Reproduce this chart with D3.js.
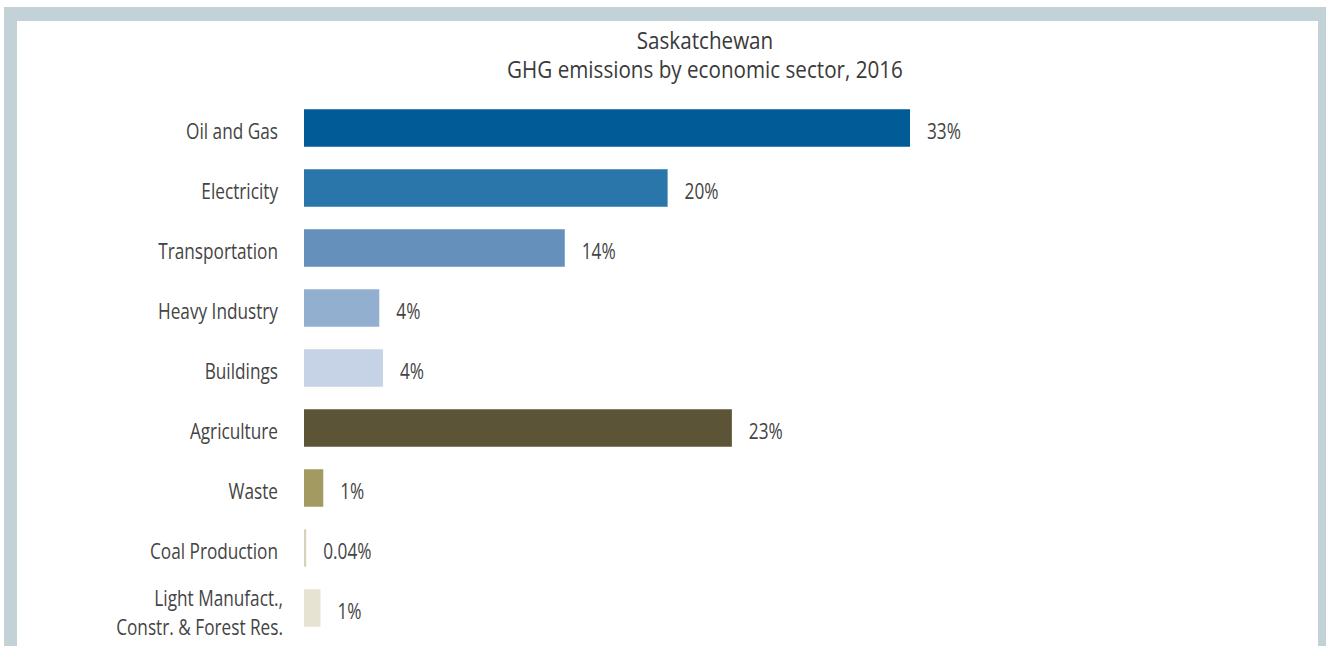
<!DOCTYPE html>
<html>
<head>
<meta charset="utf-8">
<script src="https://cdn.jsdelivr.net/npm/d3@7"></script>
<style>
  html, body { margin: 0; padding: 0; background: #fff; }
  svg { display: block; }
</style>
</head>
<body>
<svg id="chart" width="1326" height="646"></svg>
<script>
const titleLines = ["Saskatchewan", "GHG emissions by economic sector, 2016"];
const categories = [
  "Oil and Gas", "Electricity", "Transportation", "Heavy Industry", "Buildings",
  "Agriculture", "Waste", "Coal Production", "Light Manufact.,|Constr. & Forest Res."
];
const values = [33.0, 19.8, 14.2, 4.1, 4.3, 23.3, 1.05, 0.12, 0.9];
const valueLabels = ["33%", "20%", "14%", "4%", "4%", "23%", "1%", "0.04%", "1%"];
const colors = ["#005b96", "#2a76ab", "#6590bb", "#93afcf", "#c6d2e6", "#5b5437", "#a39a61", "#d7d2bd", "#e7e3d2"];

const svg = d3.select("#chart");
const font = "'Open Sans', 'Noto Sans', sans-serif";

// frame
svg.append("rect").attr("x", 4).attr("y", 7).attr("width", 1322).attr("height", 646).attr("fill", "#c3d2d6");
svg.append("rect").attr("x", 17).attr("y", 21).attr("width", 1301).attr("height", 640).attr("fill", "#ffffff");

// measure helper for horizontal condensing (reference uses a condensed face)
function measure(str, size) {
  const t = svg.append("text").attr("font-family", font).attr("font-size", size).text(str);
  const w = t.node().getComputedTextLength();
  t.remove();
  return w;
}
const labelSize = 21;
const labelSx = 92 / measure("Oil and Gas", labelSize);
const titleSize = 23;
const titleSx = 396 / measure(titleLines[1], titleSize);

function condensedText(parent, x, y, lines, size, sx, anchor, fill, sy, lineGap) {
  const t = parent.append("text")
    .attr("transform", `translate(${x},${y}) scale(${sx},${sy || 1})`)
    .attr("text-anchor", anchor)
    .attr("font-family", font).attr("font-size", size)
    .attr("fill", fill);
  [].concat(lines).forEach((ln, k) => {
    t.append("tspan").attr("x", 0).attr("y", k * (lineGap || 0)).text(ln);
  });
  return t;
}

// title (one text element, two lines)
condensedText(svg, 705, 49, titleLines, titleSize, titleSx, "middle", "#3a3a3a", 1.04, 29 / 1.04);

const x = d3.scaleLinear().domain([0, 33]).range([304, 910]);
const y = d3.scaleBand().domain(categories).range([98, 638]).paddingInner(0.375).paddingOuter(0.1875);

const g = svg.append("g");
g.selectAll("rect.bar").data(categories).join("rect")
  .attr("class", "bar")
  .attr("x", x(0))
  .attr("y", d => y(d))
  .attr("width", (d, i) => x(values[i]) - x(0))
  .attr("height", y.bandwidth())
  .attr("fill", (d, i) => colors[i]);

// category labels
categories.forEach(d => {
  const parts = d.split("|");
  const cy = y(d) + y.bandwidth() / 2;
  if (parts.length === 1) {
    condensedText(g, 278, cy + 11, parts, labelSize, labelSx, "end", "#444");
  } else {
    condensedText(g, 283, cy - 2, parts, labelSize, labelSx, "end", "#444", 1, 29);
  }
});

// value labels
categories.forEach((d, i) => {
  const cy = y(d) + y.bandwidth() / 2;
  condensedText(g, x(values[i]) + 17, cy + 10.5, valueLabels[i], labelSize, labelSx, "start", "#444");
});
</script>
</body>
</html>
